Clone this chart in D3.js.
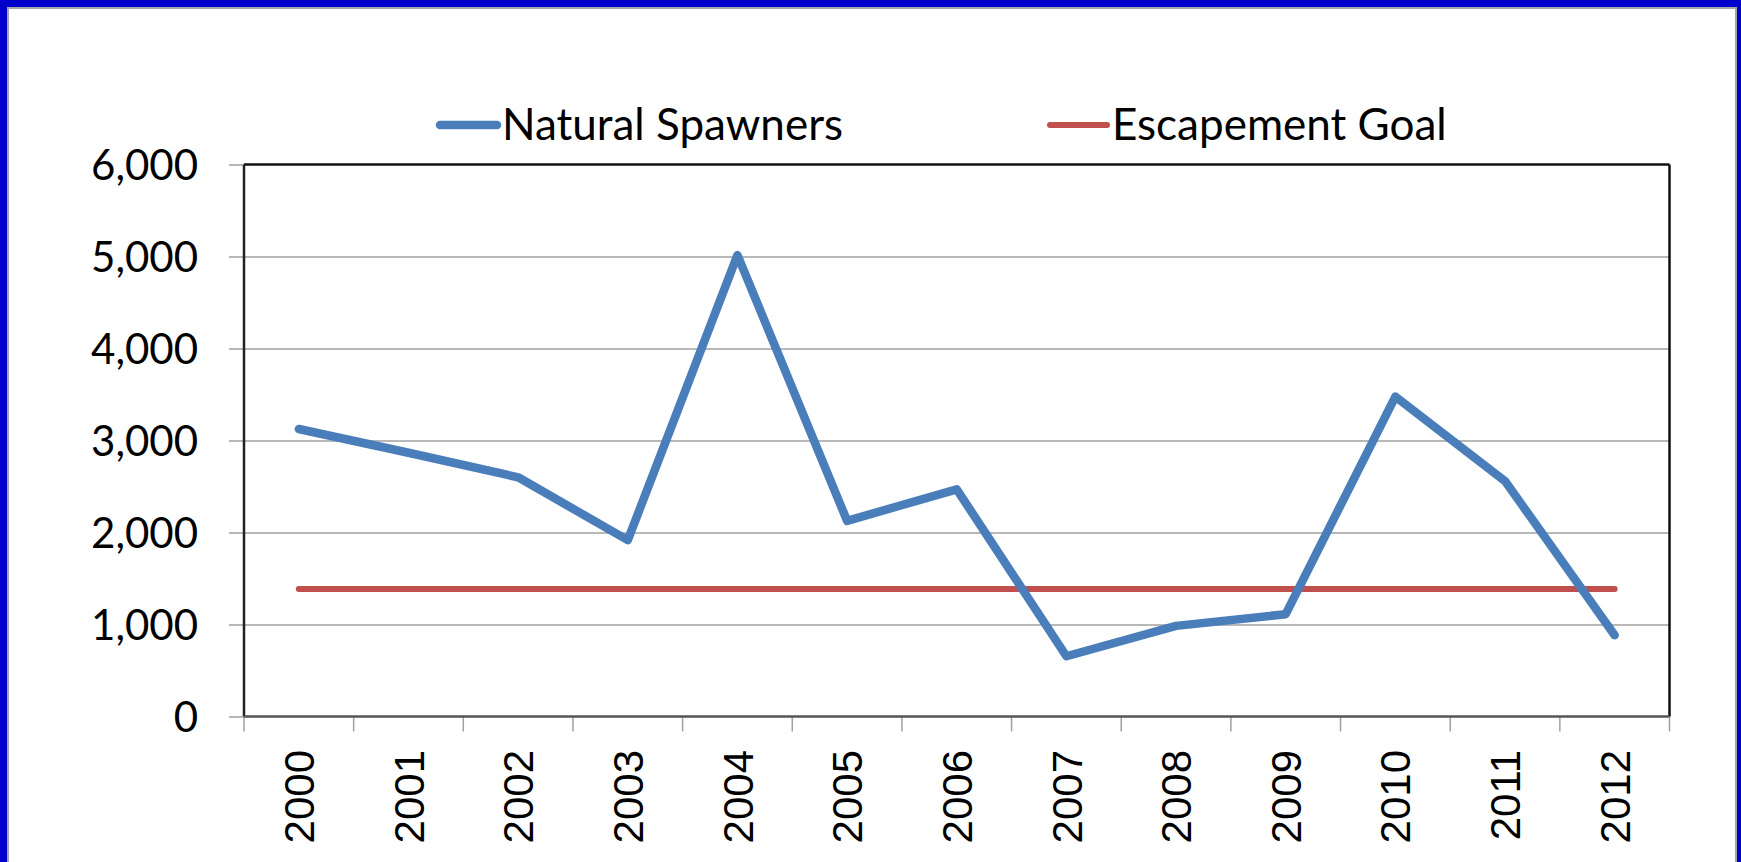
<!DOCTYPE html>
<html>
<head>
<meta charset="utf-8">
<script src="https://cdn.jsdelivr.net/npm/d3@7"></script>
<style>
  body { margin: 0; background: #fff; }
  svg { display: block; }
  .ylab { font-family: Lato, "Open Sans", sans-serif; font-size: 42px; fill: #000; }
  .xlab { font-family: "Liberation Sans", Arial, sans-serif; font-size: 42px; fill: #000; }
  .legend text { font-family: Lato, "Open Sans", sans-serif; font-size: 44px; fill: #000; }
</style>
</head>
<body>
<svg width="1741" height="862"></svg>
<script>
// chart data
const years = ["2000", "2001", "2002", "2003", "2004", "2005", "2006",
               "2007", "2008", "2009", "2010", "2011", "2012"];
const naturalSpawners = [3125, 2867, 2600, 1917, 5015, 2127, 2469,
                         655, 985, 1112, 3477, 2559, 884];
const escapementGoal = [1385, 1385, 1385, 1385, 1385, 1385, 1385,
                        1385, 1385, 1385, 1385, 1385, 1385];
const yTicks = [0, 1000, 2000, 3000, 4000, 5000, 6000];

var svg = d3.select("svg"),
    width = +svg.attr("width"),
    height = +svg.attr("height");

// plot area
const plotLeft = 244, plotRight = 1669.5, plotTop = 164.5, plotBottom = 716.5;

// blue frame with grey inner edge
svg.append("rect")
    .attr("width", width).attr("height", height)
    .attr("fill", "#0000cc");
svg.append("rect")
    .attr("x", 8).attr("y", 8)
    .attr("width", 1728).attr("height", height + 20)
    .attr("fill", "#fff")
    .attr("stroke", "#a6a6a6")
    .attr("stroke-width", 2);

var x = d3.scaleBand().domain(years).range([plotLeft, plotRight]).padding(0);
var y = d3.scaleLinear().domain([0, 6000]).range([plotBottom, plotTop]);
const cx = d => x(d) + x.bandwidth() / 2;

// gridlines
svg.append("g")
    .attr("transform", "translate(" + plotLeft + ",0)")
    .call(d3.axisLeft(y).tickValues(yTicks.slice(1, -1)).tickSize(-(plotRight - plotLeft)).tickFormat(""))
    .call(g => g.select(".domain").remove())
    .call(g => g.selectAll("line").attr("stroke", "#a0a0a0").attr("stroke-width", 1.5));

// y axis
svg.append("g")
    .attr("transform", "translate(" + plotLeft + ",0)")
    .call(d3.axisLeft(y).tickValues(yTicks).tickSize(15).tickPadding(31).tickFormat(d3.format(",")))
    .call(g => g.select(".domain").remove())
    .call(g => g.selectAll("line").attr("stroke", "#a0a0a0").attr("stroke-width", 1.5))
    .call(g => g.selectAll("text").attr("class", "ylab").attr("dy", "0.36em"))
    .attr("font-size", null).attr("font-family", null);

// x tick marks at category boundaries
const bounds = years.map(d => x(d)).concat([plotRight]);
svg.append("g").selectAll("line")
    .data(bounds)
    .enter().append("line")
    .attr("x1", d => d).attr("x2", d => d)
    .attr("y1", plotBottom).attr("y2", plotBottom + 15)
    .attr("stroke", "#a0a0a0")
    .attr("stroke-width", 1.5);

// x labels, rotated
svg.append("g").selectAll("text")
    .data(years)
    .enter().append("text")
    .attr("class", "xlab")
    .attr("transform", d => "translate(" + cx(d) + ",750) rotate(-90)")
    .attr("text-anchor", "end")
    .attr("dy", "0.36em")
    .text(d => d);

// plot border
svg.append("line").attr("x1", plotLeft).attr("x2", plotRight).attr("y1", plotTop).attr("y2", plotTop)
    .attr("stroke", "#111").attr("stroke-width", 2.5);
svg.append("line").attr("x1", plotRight).attr("x2", plotRight).attr("y1", plotTop).attr("y2", plotBottom)
    .attr("stroke", "#111").attr("stroke-width", 2.5);
svg.append("line").attr("x1", plotLeft).attr("x2", plotLeft).attr("y1", plotTop).attr("y2", plotBottom)
    .attr("stroke", "#222").attr("stroke-width", 2.5);
svg.append("line").attr("x1", plotLeft).attr("x2", plotRight).attr("y1", plotBottom).attr("y2", plotBottom)
    .attr("stroke", "#555").attr("stroke-width", 2.5);

var line = d3.line()
    .x((d, i) => cx(years[i]))
    .y(d => y(d));

// escapement goal
svg.append("path")
    .datum(escapementGoal)
    .attr("fill", "none")
    .attr("stroke", "#c0504d")
    .attr("stroke-width", 6)
    .attr("stroke-linecap", "round")
    .attr("d", line);

// natural spawners
svg.append("path")
    .datum(naturalSpawners)
    .attr("fill", "none")
    .attr("stroke", "#4a7ebb")
    .attr("stroke-width", 8.5)
    .attr("stroke-linecap", "round")
    .attr("stroke-linejoin", "round")
    .attr("d", line);

// legend
const legendItems = [
    { name: "Natural Spawners", color: "#4a7ebb", w: 8.5, x: 440 },
    { name: "Escapement Goal", color: "#c0504d", w: 6, x: 1050 }
];
var legend = svg.append("g").attr("class", "legend");
var item = legend.selectAll("g")
    .data(legendItems)
    .enter().append("g")
    .attr("transform", d => "translate(" + d.x + ",125)");
item.append("line")
    .attr("x1", 0).attr("x2", 57)
    .attr("stroke", d => d.color)
    .attr("stroke-width", d => d.w)
    .attr("stroke-linecap", "round");
item.append("text")
    .attr("x", 62)
    .attr("y", 15)
    .text(d => d.name);
</script>
</body>
</html>
